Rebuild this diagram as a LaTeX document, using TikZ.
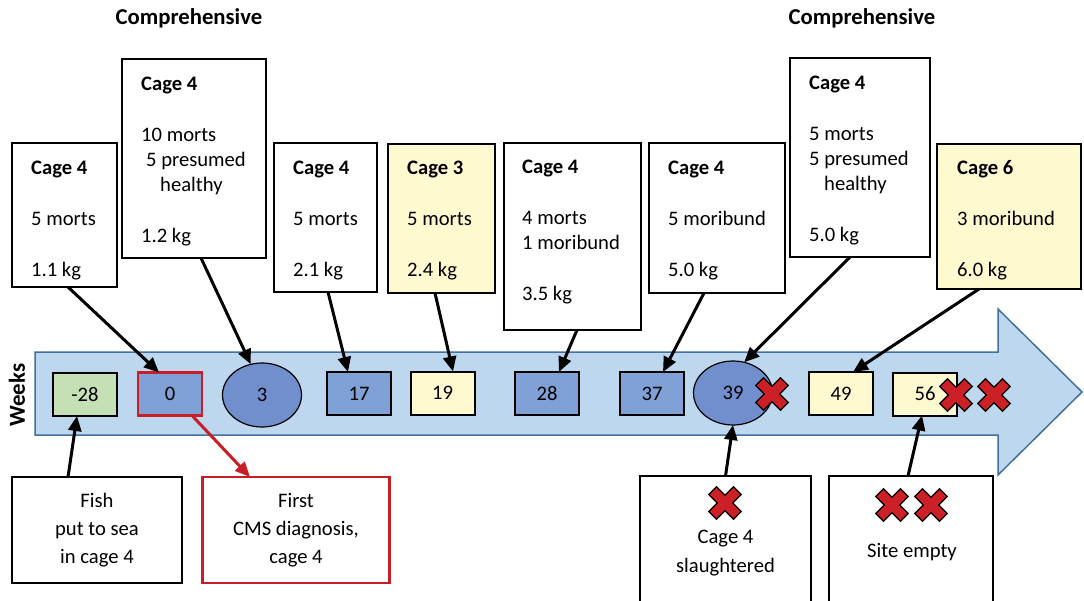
\documentclass[tikz,border=0pt]{standalone}
\usepackage{fontspec}
\setmainfont{Carlito}
\usetikzlibrary{arrows.meta,shapes.geometric,calc}

\definecolor{bandfill}{RGB}{189,215,238}
\definecolor{banddraw}{RGB}{65,113,156}
\definecolor{wkblue}{RGB}{127,161,213}
\definecolor{ellblue}{RGB}{112,143,204}
\definecolor{wkgreen}{RGB}{197,224,180}
\definecolor{paleyellow}{RGB}{255,249,207}
\definecolor{xred}{RGB}{204,32,39}
\definecolor{diagred}{RGB}{200,30,40}

\tikzset{
  infobox/.style={draw=black, line width=2.5bp, fill=white, anchor=north west, inner sep=0pt, outer sep=0pt},
  yellowbox/.style={infobox, fill=paleyellow},
  boxtext/.style={anchor=north west, inner sep=0pt, align=left, font=\fontsize{20.7}{25.5}\selectfont},
  weekbox/.style={draw=black, line width=2bp, fill=wkblue, minimum width=64bp, minimum height=43bp, inner sep=0pt, outer sep=0pt, font=\fontsize{20.7}{24}\selectfont},
  weekell/.style={ellipse, draw=black, line width=1.2bp, fill=ellblue, minimum width=79bp, minimum height=64bp, inner sep=0pt, outer sep=0pt, font=\fontsize{20.7}{24}\selectfont},
  conn/.style={draw=black, line width=3bp, -{Triangle[length=15bp,width=13bp]}},
  redconn/.style={conn, draw=diagred, -{Triangle[length=15bp,width=13bp,fill=diagred]}},
  title/.style={font=\bfseries\fontsize{22.8}{26}\selectfont, inner sep=0pt},
  redx/.pic={\filldraw[fill=xred, draw=black, line width=1.2bp, rotate=45]
    (5.5,5.5) -- (5.5,17.5) -- (-5.5,17.5) -- (-5.5,5.5) -- (-17.5,5.5) -- (-17.5,-5.5)
    -- (-5.5,-5.5) -- (-5.5,-17.5) -- (5.5,-17.5) -- (5.5,-5.5) -- (17.5,-5.5) -- (17.5,5.5) -- cycle;}
}

\begin{document}
\begin{tikzpicture}[x=1bp,y=-1bp]
\useasboundingbox (0,0) rectangle (1084,601);
\clip (0,0) rectangle (1084,601);
\fill[white] (0,0) rectangle (1084,601);

% titles
\node[title] (t1) at (189,18) {Comprehensive};
\node[title] (t2) at (862,18) {Comprehensive};

% timeline arrow band
\filldraw[fill=bandfill, draw=banddraw, line width=1.5bp]
  (35,352) -- (998,352) -- (998,309) -- (1082,392) -- (998,475) -- (998,435) -- (35,435) -- cycle;
\node[font=\bfseries\fontsize{23}{26}\selectfont, rotate=90, inner sep=0pt] (weeks) at (17,395) {Weeks};

% week markers
\node[weekbox, fill=wkgreen] (wm28) at (85,394.5) {-28};
\node[weekbox, draw=diagred, line width=2.5bp] (w0) at (170,394) {0};
\node[weekell] (e3) at (262,395) {3};
\node[weekbox] (w17) at (359,393.5) {17};
\node[weekbox, fill=paleyellow] (w19) at (442.5,393) {19};
\node[weekbox] (w28) at (547,393.5) {28};
\node[weekbox] (w37) at (652,393.5) {37};
\node[weekell] (e39) at (733,393) {39};
\node[weekbox, fill=paleyellow] (w49) at (841,393.5) {49};
\node[weekbox, fill=paleyellow] (w56) at (925,394) {56};
\pic at (772,394) {redx};
\pic at (956,395) {redx};
\pic at (994,395) {redx};

% top boxes
\node[infobox, minimum width=105bp, minimum height=144bp] (b1) at (12,143) {};
\node[boxtext] at ($(b1.north west)+(19,17.5)$) {\textbf{Cage 4}\\[25.5bp]5 morts\\[25.5bp]1.1 kg};

\node[infobox, minimum width=144bp, minimum height=199bp] (b2) at (122,59) {};
\node[boxtext] at ($(b2.north west)+(19,17.5)$) {\textbf{Cage 4}\\[25.5bp]10 morts\\\hspace*{5bp}5 presumed\\\hspace*{19bp}healthy\\[25.5bp]1.2 kg};

\node[infobox, minimum width=103bp, minimum height=149bp] (b3) at (274,143) {};
\node[boxtext] at ($(b3.north west)+(19,17.5)$) {\textbf{Cage 4}\\[25.5bp]5 morts\\[25.5bp]2.1 kg};

\node[yellowbox, minimum width=107bp, minimum height=149bp] (b4) at (388,144) {};
\node[boxtext] at ($(b4.north west)+(19,16.5)$) {\textbf{Cage 3}\\[25.5bp]5 morts\\[25.5bp]2.4 kg};

\node[infobox, minimum width=137bp, minimum height=187bp] (b5) at (504,143) {};
\node[boxtext] at ($(b5.north west)+(18,16.5)$) {\textbf{Cage 4}\\[25.5bp]4 morts\\1 moribund\\[25.5bp]3.5 kg};

\node[infobox, minimum width=136bp, minimum height=150bp] (b6) at (649,143) {};
\node[boxtext] at ($(b6.north west)+(19,17.5)$) {\textbf{Cage 4}\\[25.5bp]5 moribund\\[25.5bp]5.0 kg};

\node[infobox, minimum width=140bp, minimum height=199bp] (b7) at (790,58) {};
\node[boxtext] at ($(b7.north west)+(19,17.5)$) {\textbf{Cage 4}\\[25.5bp]5 morts\\5 presumed\\\hspace*{15bp}healthy\\[25.5bp]5.0 kg};

\node[yellowbox, minimum width=144bp, minimum height=145bp] (b8) at (937,144) {};
\node[boxtext] at ($(b8.north west)+(20,16.5)$) {\textbf{Cage 6}\\[25.5bp]3 moribund\\[25.5bp]6.0 kg};

% bottom boxes
\node[infobox, anchor=center, minimum width=170bp, minimum height=106bp, align=center,
      font=\fontsize{20.7}{28}\selectfont] (fish) at (97,530) {Fish\\put to sea\\in cage 4};
\node[infobox, draw=diagred, anchor=center, minimum width=187bp, minimum height=106bp, align=center,
      font=\fontsize{20.7}{28}\selectfont] (cms) at (296,530) {First\\CMS diagnosis,\\cage 4};

\node[infobox, minimum width=171bp, minimum height=140bp] (slau) at (640,476) {};
\pic at (725,503) {redx};
\node[align=center, inner sep=0pt, font=\fontsize{20.7}{29}\selectfont] at (725.5,553) {Cage 4\\slaughtered};

\node[infobox, minimum width=164bp, minimum height=140bp] (empty) at (829,476) {};
\pic at (892,505) {redx};
\pic at (931,505) {redx};
\node[inner sep=0pt, font=\fontsize{20.7}{25}\selectfont] at (912,552) {Site empty};

% connectors
\draw[conn] ([xshift=3.5bp]b1.south) -- ([xshift=-11bp]w0.north);
\draw[conn] ([xshift=7bp]b2.south) -- (e3.110);
\draw[conn] ([xshift=2.5bp]b3.south) -- ([xshift=-11bp]w17.north);
\draw[conn] ([xshift=-6.5bp]b4.south) -- ([xshift=10.5bp]w19.north);
\draw[conn] ([xshift=4.5bp]b5.south) -- ([xshift=12bp]w28.north);
\draw[conn] ([xshift=-13bp]b6.south) -- ([xshift=11bp]w37.north);
\draw[conn] ([xshift=-10bp]b7.south) -- (e39.70);
\draw[conn] ([xshift=-30bp]b8.south) -- ([xshift=12bp]w49.north);
\draw[conn] ([xshift=-29bp]fish.north) -- ([xshift=-8bp]wm28.south);
\draw[redconn] ([xshift=22bp]w0.south) -- ([xshift=-46bp]cms.north);
\draw[conn] (slau.north) -- (e39.south);
\draw[conn] ([xshift=-3bp]empty.north) -- ([xshift=-3bp]w56.south);
\end{tikzpicture}
\end{document}
